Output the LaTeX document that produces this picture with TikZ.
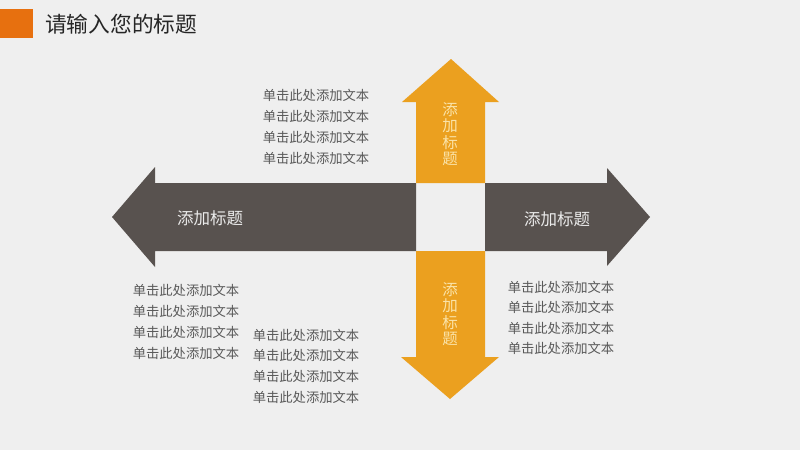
\documentclass[tikz,border=0pt]{standalone}
\usepackage{fontspec}
\setmainfont{Noto Sans CJK SC}
\definecolor{bgGray}{HTML}{EFEFEF}
\definecolor{darkArrow}{HTML}{58524F}
\definecolor{orangeArrow}{HTML}{EBA01F}
\definecolor{titleOrange}{HTML}{E7700F}
\definecolor{textGray}{HTML}{595959}
\definecolor{paleText}{HTML}{FAE3A8}
\tikzset{
  bodytext/.style={font=\fontsize{13.3}{15}\selectfont, text=textGray, inner sep=0pt},
  darklabel/.style={font=\fontsize{16.5}{18}\selectfont, text=white!92!black, inner sep=0pt},
  uplabel/.style={font=\fontsize{15.5}{16.4}\selectfont, text=paleText, align=center, inner sep=0pt}
}
\begin{document}
\begin{tikzpicture}[x=1pt, y=-1pt, line join=miter]
		\def\xl{416} \def\xr{485} % centre square
		\def\yt{183} \def\yb{251}
		\fill[bgGray] (0,0) rectangle (800,450);
		\useasboundingbox (0,0) rectangle (800,450);
		% title
		\fill[titleOrange] (0,9) rectangle (33,38);
		\node[anchor=west, inner sep=0pt, font=\fontsize{21.7}{24}\selectfont, text=black!85] (title) at (45,24) {请输入您的标题};
		% arrows
		\fill[darkArrow] (\xl,\yt)--(155,\yt)--(155,167)--(112,217)--(155,267)--(155,\yb)--(\xl,\yb)--cycle;
		\fill[darkArrow] (\xr,\yt)--(607,\yt)--(607,168)--(650,217)--(607,266)--(607,\yb)--(\xr,\yb)--cycle;
		\fill[orangeArrow] (\xl,\yt)--(\xl,102)--(402,102)--(451,59)--(499,102)--(\xr,102)--(\xr,\yt)--cycle;
		\fill[orangeArrow] (\xl,\yb)--(\xl,357)--(401,357)--(450,399)--(499,357)--(\xr,357)--(\xr,\yb)--cycle;
		% arrow labels
		\node[darklabel] (left) at (210,218) {添加标题};
		\node[darklabel] (right) at (557,219) {添加标题};
		\node[uplabel] (up) at (450,134) {添\\加\\标\\题};
		\node[uplabel] (down) at (450,314) {添\\加\\标\\题};
		% text blocks
		\foreach \i in {0,...,3}{
			\node[bodytext] (ta\i) at (316,{95+21*\i}) {单击此处添加文本};
			\node[bodytext] (tb\i) at (186,{290+21*\i}) {单击此处添加文本};
			\node[bodytext] (tc\i) at (306,{335+20.7*\i}) {单击此处添加文本};
			\node[bodytext] (td\i) at (561,{287+20.5*\i}) {单击此处添加文本};
		}
\end{tikzpicture}
\end{document}
